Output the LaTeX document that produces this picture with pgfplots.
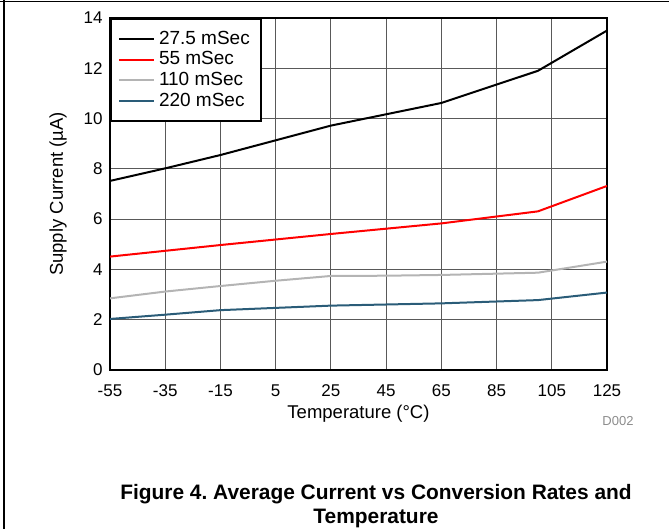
\documentclass[border=0pt]{standalone}
\usepackage{pgfplots}
\pgfplotsset{compat=1.18}
\usepackage{fontspec}
\setmainfont{Liberation Sans}
\definecolor{cblue}{RGB}{42,92,120}
\definecolor{cgray}{RGB}{180,180,180}
\begin{document}
\frenchspacing
\begin{tikzpicture}[x=1pt,y=1pt]
\useasboundingbox (0,0) rectangle (669,529);
\draw[line width=1.5pt] (0,527.5) -- (669,527.5);
\draw[line width=1.5pt] (4,0) -- (4,529);
\begin{axis}[
  at={(110pt,159pt)}, anchor=south west,
  scale only axis, width=497pt, height=352pt,
  xmin=-55, xmax=125, ymin=0, ymax=14,
  xtick={-55,-35,...,125}, ytick={0,2,...,14},
  grid=major,
  major grid style={black!65, line width=0.9pt},
  axis line style={line width=2.5pt},
  tick style={draw=none},
  /pgf/number format/assume math mode=true,
  ticklabel style={font=\fontsize{17}{19}\selectfont},
  xticklabel style={yshift=-11pt},
  yticklabel style={xshift=-4pt},
  xlabel={Temperature (°C)},
  ylabel={Supply Current (µA)},
  label style={font=\fontsize{18.5}{21}\selectfont},
  xlabel style={yshift=-2pt},
  ylabel style={yshift=10pt},
  legend cell align=left,
  legend style={at={(0,1)}, anchor=north west, draw=black, line width=2pt,
    font=\fontsize{19}{21}\selectfont,
    nodes={text height=13pt, text depth=3pt, inner ysep=2.3pt, inner xsep=4pt},
    inner xsep=7pt, inner ysep=10pt},
  legend image code/.code={\draw[#1] (0pt,0pt) -- (35pt,0pt);},
]
\addplot[black, line width=2pt] coordinates {(-55,7.52) (-35,8.02) (-15,8.55) (25,9.72) (65,10.62) (100,11.9) (125,13.5)};
\addlegendentry{27.5 mSec}
\addplot[red, line width=2pt] coordinates {(-55,4.51) (-15,4.97) (25,5.41) (65,5.83) (100,6.31) (125,7.32)};
\addlegendentry{55 mSec}
\addplot[cgray, line width=2pt] coordinates {(-55,2.85) (-35,3.12) (-15,3.34) (5,3.55) (25,3.74) (45,3.75) (65,3.78) (100,3.87) (125,4.31)};
\addlegendentry{110 mSec}
\addplot[cblue, line width=2pt] coordinates {(-55,2.03) (-35,2.2) (-15,2.38) (25,2.56) (65,2.65) (100,2.78) (125,3.08)};
\addlegendentry{220 mSec}
\end{axis}
\node[text=black!45, font=\fontsize{13}{15}\selectfont] at (618,108) {D002};
\node[font=\bfseries\fontsize{20.9}{24}\selectfont, align=center] at (376,23) {Figure 4. Average Current vs Conversion Rates and\\Temperature};
\end{tikzpicture}
\end{document}
